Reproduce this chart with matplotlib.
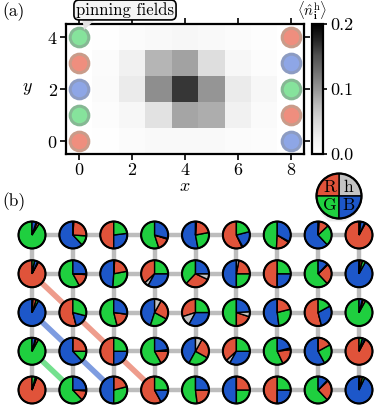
import numpy as np
import matplotlib

matplotlib.use("Agg")
import matplotlib.pyplot as plt
from matplotlib.patches import Wedge, Circle, Polygon

plt.rcParams["font.family"] = "serif"
plt.rcParams["font.serif"] = ["cmr10", "DejaVu Serif"]
plt.rcParams["mathtext.fontset"] = "cm"
plt.rcParams["axes.formatter.use_mathtext"] = True
plt.rcParams["font.size"] = 12

# ---------------------------------------------------------------- data
# hole density <n_h>, rows listed top (y=4) to bottom (y=0), columns x=0..8
HOLE = [
    [0.000, 0.002, 0.006, 0.010, 0.012, 0.010, 0.006, 0.003, 0.000],
    [0.000, 0.006, 0.022, 0.080, 0.092, 0.044, 0.012, 0.005, 0.000],
    [0.000, 0.008, 0.030, 0.105, 0.165, 0.100, 0.030, 0.012, 0.000],
    [0.000, 0.005, 0.012, 0.040, 0.090, 0.085, 0.022, 0.008, 0.000],
    [0.000, 0.002, 0.006, 0.010, 0.010, 0.010, 0.006, 0.004, 0.000],
]
# pinning field colours, index = y (0..4)
PIN_LEFT = ["R", "G", "B", "R", "G"]
PIN_RIGHT = ["B", "R", "G", "B", "R"]

# colour fractions per site, rows listed top (y=4) to bottom (y=0)
FRAC_R = [
    [0.03, 0.25, 0.50, 0.15, 0.21, 0.57, 0.17, 0.12, 0.92],
    [0.92, 0.16, 0.21, 0.37, 0.30, 0.22, 0.50, 0.25, 0.03],
    [0.04, 0.54, 0.19, 0.25, 0.30, 0.20, 0.21, 0.54, 0.03],
    [0.03, 0.25, 0.50, 0.17, 0.25, 0.37, 0.20, 0.17, 0.92],
    [0.94, 0.12, 0.21, 0.58, 0.23, 0.25, 0.50, 0.25, 0.03],
]
FRAC_G = [
    [0.91, 0.12, 0.23, 0.55, 0.25, 0.21, 0.49, 0.25, 0.02],
    [0.03, 0.58, 0.29, 0.25, 0.38, 0.25, 0.25, 0.62, 0.04],
    [0.03, 0.29, 0.54, 0.22, 0.25, 0.50, 0.27, 0.17, 0.92],
    [0.92, 0.13, 0.25, 0.58, 0.25, 0.25, 0.57, 0.25, 0.04],
    [0.04, 0.62, 0.29, 0.25, 0.52, 0.25, 0.25, 0.62, 0.03],
]
FRAC_B = [
    [0.05, 0.62, 0.27, 0.29, 0.53, 0.21, 0.33, 0.62, 0.05],
    [0.04, 0.25, 0.49, 0.33, 0.25, 0.50, 0.25, 0.12, 0.92],
    [0.92, 0.17, 0.27, 0.45, 0.33, 0.24, 0.52, 0.29, 0.04],
    [0.04, 0.62, 0.25, 0.23, 0.42, 0.33, 0.21, 0.58, 0.03],
    [0.01, 0.25, 0.50, 0.17, 0.25, 0.50, 0.25, 0.12, 0.93],
]
FRAC_H = [
    [0.01, 0.01, 0.00, 0.01, 0.01, 0.01, 0.01, 0.01, 0.01],
    [0.01, 0.01, 0.01, 0.05, 0.07, 0.03, 0.00, 0.01, 0.01],
    [0.01, 0.00, 0.00, 0.08, 0.12, 0.06, 0.00, 0.00, 0.01],
    [0.01, 0.00, 0.00, 0.02, 0.08, 0.05, 0.02, 0.00, 0.01],
    [0.01, 0.01, 0.00, 0.00, 0.00, 0.00, 0.00, 0.01, 0.01],
]
# stripes drawn in panel (b): colour, start site, end site
STRIPES = [("R", (0, 3), (3, 0)), ("B", (0, 2), (2, 0)), ("G", (0, 1), (1, 0))]

NX, NY = 9, 5
ORDER = ["R", "G", "B", "h"]
COL = {"R": "#E0533A", "G": "#1FCF3F", "B": "#1D57C9", "h": "#C4C4C4"}
PIN_FACE = {"R": "#EF8E7E", "G": "#86E39C", "B": "#8EA6E6"}
PIN_EDGE = {"R": "#C99C8A", "G": "#86B894", "B": "#8D9CC2"}
STRIPE_COL = {"R": "#EE9C8C", "G": "#74E08E", "B": "#7E9CE0"}

W, H = 374, 407
fig = plt.figure(figsize=(W / 100, H / 100), dpi=100)


def fx(px):
    return px / W


def fy(py):
    return 1 - py / H


# ---------------------------------------------------------------- panel (a)
ax = fig.add_axes([fx(66), fy(154), fx(304 - 66), (154 - 24) / H])
im = ax.imshow(np.array(HOLE[::-1]), origin="lower", cmap="Greys", vmin=0, vmax=0.2,
               extent=(-0.5, NX - 0.5, -0.5, NY - 0.5), aspect="auto", zorder=0)
for y in range(NY):
    for x, c in [(0, PIN_LEFT[y]), (NX - 1, PIN_RIGHT[y])]:
        ax.scatter(x, y, s=180, color=PIN_FACE[c], edgecolors=PIN_EDGE[c],
                   linewidths=2.2, zorder=3, clip_on=False)
ax.set_xlim(-0.5, NX - 0.5)
ax.set_ylim(-0.5, NY - 0.5)
ax.set_xticks([0, 2, 4, 6, 8])
ax.set_yticks([0, 2, 4])
ax.tick_params(direction="out", length=4, width=1.2, labelsize=13, pad=2)
ax.tick_params(top=True, right=True)
for s in ax.spines.values():
    s.set_linewidth(1.6)
ax.set_xlabel("$x$", fontsize=13, labelpad=0)
ax.set_ylabel("$y$", fontsize=13, rotation=0, labelpad=14, va="center")

cax = fig.add_axes([fx(312), fy(154), fx(11), (154 - 24) / H])
cb = fig.colorbar(im, cax=cax, ticks=[0.0, 0.1, 0.2])
cb.ax.set_yticklabels(["0.0", "0.1", "0.2"])
cb.ax.tick_params(labelsize=13, width=1.2, length=3, pad=2)
cb.outline.set_linewidth(1.6)
fig.text(fx(312), fy(22), r"$\langle \hat{n}^{\mathrm{h}}_{\mathbf{i}} \rangle$",
         ha="center", va="bottom", fontsize=10.5)

fig.text(fx(2), fy(12), "(a)", ha="left", va="center", fontsize=12.5)
fig.patches.append(Polygon([[fx(82), fy(17)], [fx(98), fy(17)], [fx(84), fy(30)]],
                           closed=True, transform=fig.transFigure,
                           facecolor="#E2E2E2", edgecolor="none", zorder=1))
fig.text(fx(125), fy(10), "pinning fields", ha="center", va="center", fontsize=12,
         bbox=dict(boxstyle="round,pad=0.12,rounding_size=0.3", facecolor="#F4F4F4",
                   edgecolor="black", linewidth=1.2), zorder=2)

# ---------------------------------------------------------------- panel (b)
fig.text(fx(2), fy(202), "(b)", ha="left", va="center", fontsize=12.5)

bx = fig.add_axes([0, 0, 1, fy(165)])
bx.set_axis_off()
unit = (359 - 32) / (NX - 1)          # pixels per lattice unit (x)
row = 38.75 / unit                    # vertical spacing in x-units
bh = fy(165) * H
x0, y0 = -32 / unit, -17 / unit
bx.set_xlim(x0, x0 + W / unit)
bx.set_ylim(y0, y0 + bh / unit)
radius = 13.5 / unit

for y in range(NY):
    bx.plot([0, NX - 1], [y * row, y * row], color="#BDBDBD", lw=3.2,
            solid_capstyle="butt", zorder=1)
for x in range(NX):
    bx.plot([x, x], [0, (NY - 1) * row], color="#BDBDBD", lw=3.2,
            solid_capstyle="butt", zorder=1)
for c, (xa, ya), (xb, yb) in STRIPES:
    bx.plot([xa, xb], [ya * row, yb * row], color=STRIPE_COL[c], lw=4,
            solid_capstyle="butt", zorder=2)

for r in range(NY):
    y = NY - 1 - r
    for x in range(NX):
        fr = {"R": FRAC_R[r][x], "G": FRAC_G[r][x], "B": FRAC_B[r][x], "h": FRAC_H[r][x]}
        tot = sum(fr.values())
        first = (x + y) % 3
        seq = [ORDER[(first - k) % 4] for k in range(4)]
        ang = 90.0
        cx, cy = x, y * row
        for c in seq:
            span = 360.0 * fr[c] / tot
            bx.add_patch(Wedge((cx, cy), radius, ang, ang + span, facecolor=COL[c],
                               edgecolor="black", linewidth=1.0, zorder=3))
            ang += span
        bx.add_patch(Circle((cx, cy), radius, facecolor="none", edgecolor="black",
                            linewidth=1.5, zorder=4))

# legend pie
lx, ly = (339 - 32) / unit, y0 + (H - 196) / unit
lr = 22.5 / unit
bx.add_patch(Polygon([[lx - 0.45, ly - 0.42], [lx + 0.45, ly - 0.42],
                      [lx + 0.15, ly - 0.62], [lx - 0.25, ly - 0.62]],
                     closed=True, facecolor="#ECECEC", edgecolor="none", zorder=2))
for k, (c, lab, dxs, dys) in enumerate([("h", "h", 1, 1), ("R", "R", -1, 1),
                                         ("G", "G", -1, -1), ("B", "B", 1, -1)]):
    bx.add_patch(Wedge((lx, ly), lr, 90 * k, 90 * (k + 1), facecolor=COL[c],
                       edgecolor="black", linewidth=1.0, zorder=5))
    bx.text(lx + dxs * lr * 0.42, ly + dys * lr * 0.4, lab, ha="center", va="center",
            fontsize=12.5, zorder=6)
bx.add_patch(Circle((lx, ly), lr, facecolor="none", edgecolor="black",
                    linewidth=1.6, zorder=6))

fig.savefig("out.png", dpi=100)
